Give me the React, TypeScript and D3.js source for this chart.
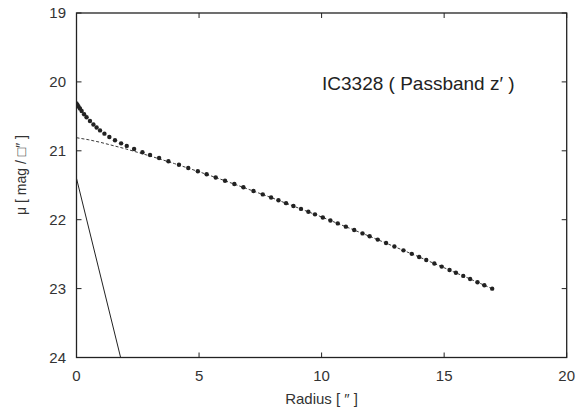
import React from "react";
import * as d3 from "d3";

// Observed surface-brightness profile (radius in arcsec, mu in mag/arcsec^2)
const radius = [0, 0.04, 0.08, 0.14, 0.21, 0.31, 0.41, 0.55, 0.69, 0.82, 0.96, 1.14, 1.34, 1.57, 1.82, 2.05, 2.35, 2.69, 3.0, 3.37, 3.75, 4.18, 4.56, 4.95, 5.31, 5.68, 6.06, 6.44, 6.81, 7.22, 7.6, 7.94, 8.24, 8.55, 8.85, 9.16, 9.46, 9.73, 10.05, 10.36, 10.66, 10.99, 11.33, 11.67, 11.96, 12.29, 12.63, 12.97, 13.34, 13.68, 13.98, 14.27, 14.6, 14.9, 15.22, 15.48, 15.78, 16.06, 16.36, 16.64, 16.96];
const mu = [20.313, 20.335, 20.356, 20.387, 20.422, 20.469, 20.512, 20.568, 20.619, 20.662, 20.704, 20.751, 20.799, 20.846, 20.892, 20.929, 20.974, 21.02, 21.06, 21.105, 21.152, 21.203, 21.249, 21.297, 21.341, 21.387, 21.434, 21.482, 21.53, 21.583, 21.633, 21.678, 21.718, 21.76, 21.801, 21.843, 21.885, 21.922, 21.967, 22.011, 22.054, 22.101, 22.15, 22.199, 22.241, 22.289, 22.339, 22.39, 22.445, 22.496, 22.541, 22.585, 22.635, 22.681, 22.73, 22.77, 22.816, 22.86, 22.907, 22.951, 23.001];

// Outer (disk) component, dashed
const diskR = [0, 0.5, 1, 2, 3, 4, 5, 6, 8, 10, 12, 14, 16, 17];
const diskMu = [20.81, 20.84, 20.879, 20.971, 21.075, 21.186, 21.304, 21.427, 21.686, 21.96, 22.247, 22.544, 22.851, 23.008];

// Inner (bulge) component, solid
const bulgeR = [0, 0.9, 1.8];
const bulgeMu = [21.4, 22.7, 24.0];

const xTicks = [0, 5, 10, 15, 20];
const yTicks = [19, 20, 21, 22, 23, 24];

const title = "IC3328 ( Passband z\u2032 )";
const xLabel = "Radius [ \u2033 ]";
const yLabel = "\u03bc  [ mag / \u25a1\u2033 ]";

export default function App() {
  const W = 579, H = 412;
  const x = d3.scaleLinear().domain([0, 20]).range([76.5, 566.7]);
  const y = d3.scaleLinear().domain([19, 24]).range([13, 357.5]);
  const x0 = x(0), x1 = x(20), y0 = y(19), y1 = y(24);
  const tick = 5;
  const ink = "#222";
  const font = "'Liberation Sans', Arial, Helvetica, sans-serif";

  const diskLine = d3.line<number>().x((_, i) => x(diskR[i])).y((d) => y(d))(diskMu) || "";
  const bulgeLine = d3.line<number>().x((_, i) => x(bulgeR[i])).y((d) => y(d))(bulgeMu) || "";

  return (
    <svg width={W} height={H} style={{ position: "absolute", left: 0, top: 0, background: "#fff" }} fontFamily={font}>
      <rect x={0} y={0} width={W} height={H} fill="#fff" />
      <defs>
        <clipPath id="plot">
          <rect x={x0} y={y0} width={x1 - x0} height={y1 - y0} />
        </clipPath>
      </defs>
      {/* ticks */}
      {xTicks.map((t) => (
        <g key={"xt" + t}>
          <line x1={x(t)} x2={x(t)} y1={y1} y2={y1 - tick} stroke={ink} strokeWidth={1} />
          <line x1={x(t)} x2={x(t)} y1={y0} y2={y0 + tick} stroke={ink} strokeWidth={1} />
          <text x={x(t)} y={381} textAnchor="middle" fontSize={15} fill="#333">{t}</text>
        </g>
      ))}
      {yTicks.map((t) => (
        <g key={"yt" + t}>
          <line x1={x0} x2={x0 + tick} y1={y(t)} y2={y(t)} stroke={ink} strokeWidth={1} />
          <line x1={x1} x2={x1 - tick} y1={y(t)} y2={y(t)} stroke={ink} strokeWidth={1} />
          <text x={66} y={y(t) + 5.3} textAnchor="end" fontSize={15} fill="#333">{t}</text>
        </g>
      ))}
      <g clipPath="url(#plot)">
        <path d={diskLine} fill="none" stroke={ink} strokeWidth={0.9} strokeDasharray="3,2" />
        <path d={bulgeLine} fill="none" stroke={ink} strokeWidth={1} />
        {radius.map((r, i) => (
          <circle key={i} cx={x(r)} cy={y(mu[i])} r={2.2} fill={ink} />
        ))}
      </g>
      <rect x={x0} y={y0} width={x1 - x0} height={y1 - y0} fill="none" stroke={ink} strokeWidth={1.3} />
      <text x={322} y={90} fontSize={19} fill="#222">{title}</text>
      <text x={(x0 + x1) / 2} y={404} textAnchor="middle" fontSize={15} fill="#333">{xLabel}</text>
      <text transform={`translate(26,175) rotate(-90)`} textAnchor="middle" fontSize={14} fill="#333">{yLabel}</text>
    </svg>
  );
}
